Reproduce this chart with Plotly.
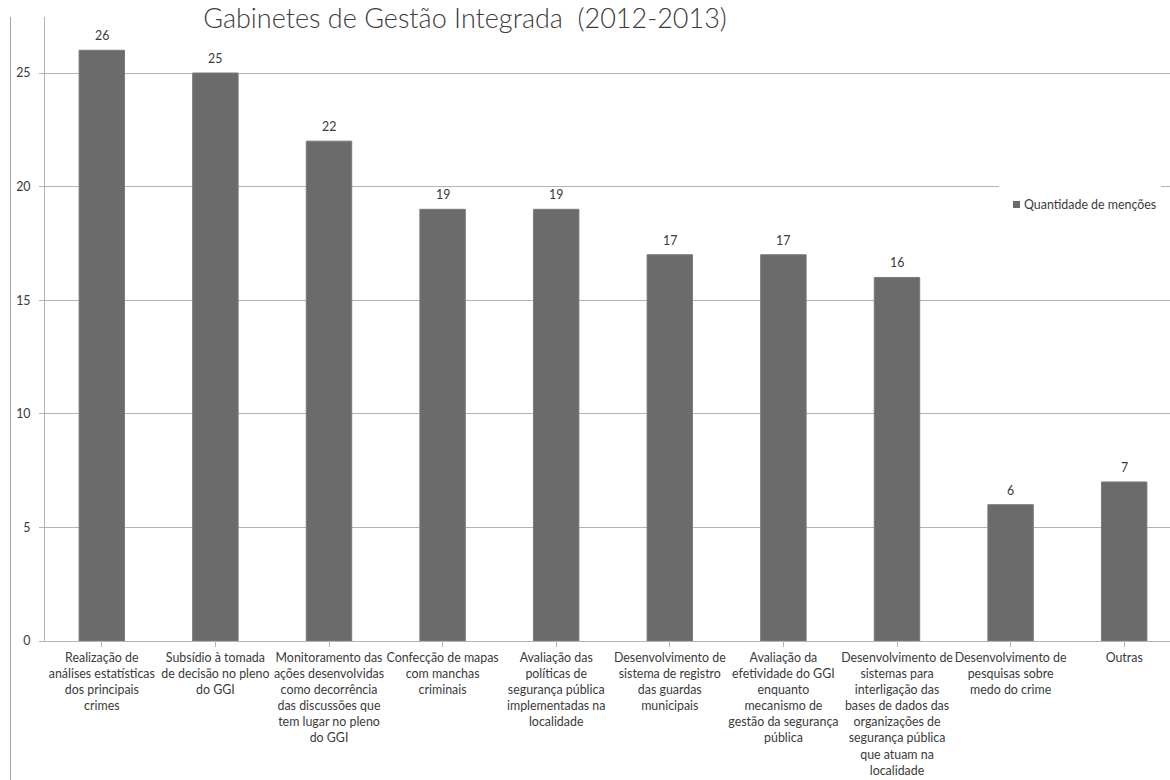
import plotly.graph_objects as go

# Categories (wrapped as in the source chart) and mention counts
categorias = [
    "Realização de<br>análises estatísticas<br>dos principais<br>crimes",
    "Subsídio à tomada<br>de decisão no pleno<br>do GGI",
    "Monitoramento das<br>ações desenvolvidas<br>como decorrência<br>das discussões que<br>tem lugar no pleno<br>do GGI",
    "Confecção de mapas<br>com manchas<br>criminais",
    "Avaliação das<br>políticas de<br>segurança pública<br>implementadas na<br>localidade",
    "Desenvolvimento de<br>sistema de registro<br>das guardas<br>municipais",
    "Avaliação da<br>efetividade do GGI<br>enquanto<br>mecanismo de<br>gestão da segurança<br>pública",
    "Desenvolvimento de<br>sistemas para<br>interligação das<br>bases de dados das<br>organizações de<br>segurança pública<br>que atuam na<br>localidade",
    "Desenvolvimento de<br>pesquisas sobre<br>medo do crime",
    "Outras",
]
mencoes = [26, 25, 22, 19, 19, 17, 17, 16, 6, 7]
y_ticks = [0, 5, 10, 15, 20, 25]
serie_nome = "Quantidade de menções"

W, H = 1170, 780
ML, MR, MT, MB = 45, 0, 17, 139
plot_w = W - ML - MR
plot_h = H - MT - MB

GRID = "#b3b3b3"
TXT = "#3a3a3a"
BAR = "#6b6b6b"
FONT = "Lato"
FS = 12.4


def px_x(px):
    return (px - ML) / plot_w


def px_y(py):
    return 1 - (py - MT) / plot_h


fig = go.Figure()
fig.add_trace(go.Bar(
    x=list(range(len(categorias))),
    y=mencoes,
    name=serie_nome,
    marker=dict(color=BAR, line=dict(color="#7a7a7a", width=1)),
    width=0.4,
    showlegend=False,
))

# value labels above each bar
for i, v in enumerate(mencoes):
    fig.add_annotation(
        x=i, y=v, xref="x", yref="y", text=str(v), showarrow=False,
        yanchor="bottom", yshift=5,
        font=dict(family=FONT, size=FS, color=TXT),
    )

# x range: category spacing of ~113.6 px, right side runs off the page
cat_px = 113.6
x_right = -0.5 + plot_w / cat_px
# y range so that 25 units span 568 px
px_per_unit = 568 / 25
y_top = plot_h / px_per_unit

fig.update_xaxes(
    range=[-0.5, x_right],
    tickmode="array",
    tickvals=list(range(len(categorias))),
    ticktext=categorias,
    tickangle=0,
    showline=True, linecolor=GRID, linewidth=1,
    ticks="outside", ticklen=5, tickcolor=GRID,
    tickson="boundaries",
    showgrid=False, zeroline=False,
    tickfont=dict(family=FONT, size=FS, color=TXT),
)
fig.update_yaxes(
    range=[0, y_top],
    tickmode="array", tickvals=y_ticks,
    showline=True, linecolor=GRID, linewidth=1,
    ticks="outside", ticklen=5, tickcolor=GRID,
    showgrid=True, gridcolor=GRID, gridwidth=1,
    zeroline=False,
    ticklabelstandoff=6,
    tickfont=dict(family=FONT, size=FS, color=TXT),
)

# outer chart border on the left
fig.add_shape(
    type="line", xref="paper", yref="paper",
    x0=px_x(10.5), x1=px_x(10.5),
    y0=1, y1=-MB / plot_h,
    line=dict(color="#a6a6a6", width=1),
)

# legend box: white backing that interrupts the gridline, swatch and label
fig.add_shape(
    type="rect", xref="paper", yref="paper",
    x0=px_x(999), x1=px_x(1161),
    y0=px_y(226), y1=px_y(182),
    fillcolor="white", line=dict(width=0), layer="above",
)
fig.add_shape(
    type="rect", xref="paper", yref="paper",
    x0=px_x(1013), x1=px_x(1020),
    y0=px_y(208), y1=px_y(201),
    fillcolor=BAR, line=dict(width=0), layer="above",
)
fig.add_annotation(
    x=px_x(1022), y=px_y(204.5), xref="paper", yref="paper",
    text=serie_nome, showarrow=False, xanchor="left", yanchor="middle",
    font=dict(family=FONT, size=FS, color=TXT),
)

fig.update_layout(
    width=W, height=H,
    margin=dict(l=ML, r=MR, t=MT, b=MB, pad=0),
    paper_bgcolor="white", plot_bgcolor="white",
    bargap=0.6,
    showlegend=False,
    title=dict(
        text="Gabinetes de Gestão Integrada  (2012-2013)",
        x=465 / W, xanchor="center",
        y=1 - 19 / H, yanchor="middle",
        font=dict(family=FONT, size=27, color="#3c3c3c", weight=300),
    ),
)

fig.write_html("out.html")
